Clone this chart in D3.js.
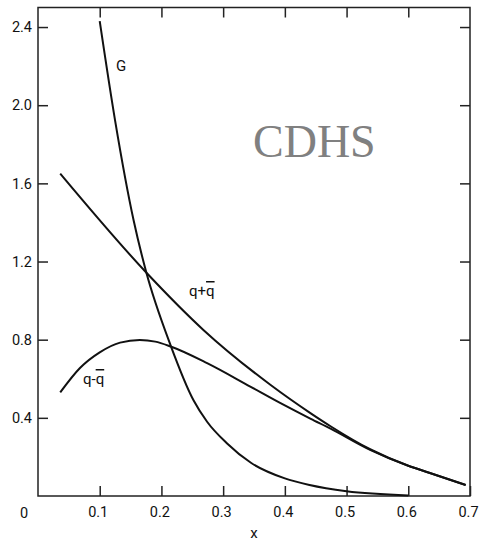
<!DOCTYPE html>
<html>
<head>
<meta charset="utf-8">
<script src="https://cdn.jsdelivr.net/npm/d3@7.9.0/dist/d3.min.js"></script>
<style>
  body { margin: 0; background: #fff; }
  svg text { font-family: Roboto, "DejaVu Sans", sans-serif; }
</style>
</head>
<body>
<svg id="chart" width="479" height="541"></svg>
<script>
// values
const gX = [0.10, 0.125, 0.155, 0.175, 0.215, 0.252, 0.274, 0.306, 0.345, 0.40, 0.44, 0.50, 0.60];
const gY = [2.43, 1.92, 1.41, 1.15, 0.77, 0.49, 0.38, 0.27, 0.17, 0.09, 0.056, 0.024, 0.003];

const sumX = [0.036, 0.1765, 0.268, 0.377, 0.442, 0.474, 0.539, 0.60, 0.635, 0.693];
const sumY = [1.65, 1.14, 0.85, 0.568, 0.423, 0.357, 0.238, 0.155, 0.118, 0.056];

const diffX = [0.036, 0.068, 0.10, 0.133, 0.165, 0.19, 0.215, 0.274, 0.344, 0.393, 0.442, 0.474, 0.539, 0.60, 0.635, 0.693];
const diffY = [0.53, 0.655, 0.735, 0.785, 0.798, 0.79, 0.765, 0.68, 0.56, 0.475, 0.395, 0.345, 0.235, 0.155, 0.118, 0.056];

const xTicks = [0.1, 0.2, 0.3, 0.4, 0.5, 0.6, 0.7];
const yTicks = [0.4, 0.8, 1.2, 1.6, 2.0, 2.4];

const svg = d3.select('#chart');
const x = d3.scaleLinear().domain([0, 0.7]).range([38, 470]);
const y = d3.scaleLinear().domain([0, 2.5]).range([496, 7.5]);
const fmt = d3.format('.1f');

// frame
svg.append('rect')
  .attr('x', x(0)).attr('y', y(2.5))
  .attr('width', x(0.7) - x(0)).attr('height', y(0) - y(2.5))
  .attr('fill', 'none').attr('stroke', '#222').attr('stroke-width', 1.5);

function styleAxis(g) {
  g.select('.domain').remove();
  g.attr('font-family', null).attr('font-size', 14.5).attr('color', '#222');
  g.selectAll('.tick line').attr('stroke-width', 1.5);
  g.selectAll('.tick text').attr('fill', '#111');
}

svg.append('g').attr('transform', `translate(0,${y(0)})`)
  .call(d3.axisBottom(x).tickValues(xTicks).tickSizeInner(-10).tickSizeOuter(0).tickPadding(11).tickFormat(fmt))
  .call(styleAxis)
  .call(g => g.selectAll('.tick text').attr('dx', -2));
svg.append('g').attr('transform', `translate(0,${y(2.5)})`)
  .call(d3.axisTop(x).tickValues(xTicks.slice(0, -1)).tickSizeInner(-10).tickSizeOuter(0).tickFormat(''))
  .call(styleAxis);
svg.append('g').attr('transform', `translate(${x(0)},0)`)
  .call(d3.axisLeft(y).tickValues(yTicks).tickSizeInner(-10).tickSizeOuter(0).tickPadding(6).tickFormat(fmt))
  .call(styleAxis);
svg.append('g').attr('transform', `translate(${x(0.7)},0)`)
  .call(d3.axisRight(y).tickValues(yTicks).tickSizeInner(-10).tickSizeOuter(0).tickFormat(''))
  .call(styleAxis);

// corner zero and axis title
svg.append('text').attr('x', x(0) - 14).attr('y', y(0) + 22)
  .attr('text-anchor', 'middle').attr('font-size', 14.5).attr('fill', '#111').text('0');
svg.append('text').attr('x', x(0.35)).attr('y', 538)
  .attr('text-anchor', 'middle').attr('font-size', 15).attr('fill', '#111').text('x');

// curves
const line = d3.line().x(d => x(d[0])).y(d => y(d[1])).curve(d3.curveMonotoneX);
const series = [
  d3.zip(gX, gY),
  d3.zip(sumX, sumY),
  d3.zip(diffX, diffY)
];
svg.selectAll('path.curve').data(series).enter().append('path')
  .attr('class', 'curve')
  .attr('d', line)
  .attr('fill', 'none').attr('stroke', '#111').attr('stroke-width', 2);

// curve labels
svg.append('text').attr('x', 116).attr('y', 71).attr('font-size', 15).attr('fill', '#111').text('G');

function qLabel(px, py, sign) {
  const t = svg.append('text').attr('x', px).attr('y', py).attr('font-size', 15).attr('fill', '#111');
  t.append('tspan').text('q' + sign);
  t.append('tspan').attr('style', 'text-decoration: overline').text('q');
}
qLabel(189, 296, '+');
qLabel(83, 384, '-');

// watermark
svg.append('text').attr('x', 253).attr('y', 157)
  .attr('style', 'font-family: "Liberation Serif", serif')
  .attr('font-size', 46).attr('fill', '#808080').text('CDHS');
</script>
</body>
</html>
